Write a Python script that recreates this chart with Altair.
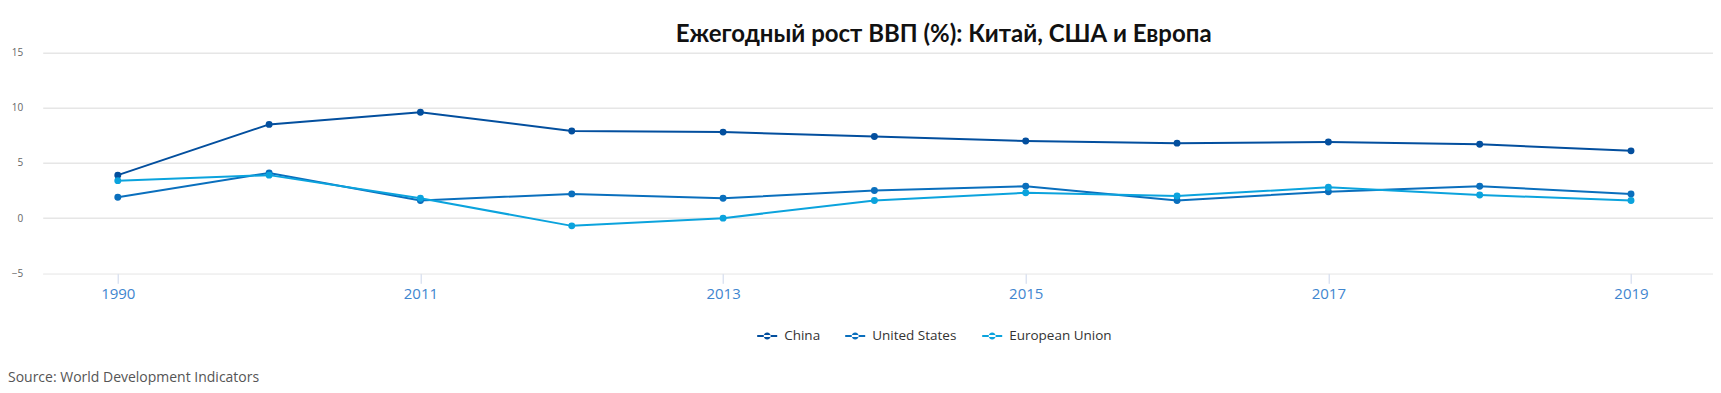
import altair as alt
import pandas as pd

years = ["1990", "2000", "2011", "2012", "2013", "2014", "2015", "2016", "2017", "2018", "2019"]
china = [3.9, 8.5, 9.6, 7.9, 7.8, 7.4, 7.0, 6.8, 6.9, 6.7, 6.1]
usa = [1.9, 4.1, 1.6, 2.2, 1.8, 2.5, 2.9, 1.6, 2.4, 2.9, 2.2]
eu = [3.4, 3.9, 1.8, -0.7, 0.0, 1.6, 2.3, 2.0, 2.8, 2.1, 1.6]
series_names = ["China", "United States", "European Union"]
series_colors = ["#034f9e", "#0a6fbd", "#0ba3dd"]
x_tick_labels = ["1990", "2011", "2013", "2015", "2017", "2019"]
y_ticks = [-5, 0, 5, 10, 15]
title_text = "Ежегодный рост ВВП (%): Китай, США и Европа"
source_text = "Source: World Development Indicators"

rows = []
for name, vals in zip(series_names, [china, usa, eu]):
    for y, v in zip(years, vals):
        rows.append({"year": y, "value": v, "series": name, "order": series_names.index(name)})
df = pd.DataFrame(rows)

x_enc = alt.X(
    "year:O",
    sort=years,
    scale=alt.Scale(type="point", padding=0.518, align=0.479),
    axis=alt.Axis(
        values=x_tick_labels,
        title=None,
        labelAngle=0,
        labelColor="#3f86cf",
        labelFont="Open Sans",
        labelFontSize=15,
        labelPadding=3,
        tickSize=10,
        tickColor="#ccd6eb",
        tickWidth=1,
        domainColor="#f0f0f0",
        domainWidth=1,
        grid=False,
    ),
)
y_enc = alt.Y(
    "value:Q",
    scale=alt.Scale(domain=[-5, 15], nice=False, zero=False),
    axis=alt.Axis(
        values=y_ticks,
        title=None,
        labelColor="#666666",
        labelFont="Open Sans",
        labelFontSize=10,
        labelPadding=20,
        ticks=False,
        domain=False,
        grid=True,
        gridColor={"condition": {"test": "datum.value === -5", "value": "#f2f2f2"}, "value": "#e6e6e6"},
        gridWidth=1.5,
    ),
)
legend_symbol = (
    "M-1,-0.1L1,-0.1L1,0.1L-1,0.1Z"
    "M-0.35,0A0.35,0.35,0,1,0,0.35,0A0.35,0.35,0,1,0,-0.35,0Z"
)
color_enc = alt.Color(
    "series:N",
    sort=series_names,
    scale=alt.Scale(domain=series_names, range=series_colors),
    legend=alt.Legend(
        title=None,
        orient="none",
        direction="horizontal",
        legendX=714.5,
        legendY=273,
        columns=3,
        symbolType=legend_symbol,
        symbolSize=400,
        symbolStrokeWidth=0,
        labelFont="Open Sans",
        labelFontSize=13.5,
        labelColor="#333333",
        labelOffset=7,
        columnPadding=25,
    ),
)

base = alt.Chart(df)
lines = base.mark_line(strokeWidth=2).encode(x=x_enc, y=y_enc, color=color_enc, order=alt.Order("order:Q"))
points = base.mark_point(filled=True, size=48, opacity=1).encode(x=x_enc, y=y_enc, color=color_enc)

source = alt.Chart(pd.DataFrame({"t": [source_text]})).mark_text(
    align="left", baseline="middle", font="Open Sans", fontSize=14, color="#555555"
).encode(text="t:N", x=alt.value(-34.7), y=alt.value(325.5))

title = alt.Chart(pd.DataFrame({"t": [title_text]})).mark_text(
    align="center", baseline="alphabetic", font="Lato", fontSize=24, fontWeight="bold", color="#111111"
).encode(text="t:N", x=alt.value(901), y=alt.value(-11))

chart = (
    alt.layer(lines, points, source, title)
    .properties(
        width=1670,
        height=220.6,
        padding={"left": 34.7, "top": 44.7, "right": 0, "bottom": 111.5},
        autosize=alt.AutoSizeParams(type="none"),
    )
    .configure_view(stroke=None)
)

chart.save("out.html", embed_options={"renderer": "svg", "actions": False})
